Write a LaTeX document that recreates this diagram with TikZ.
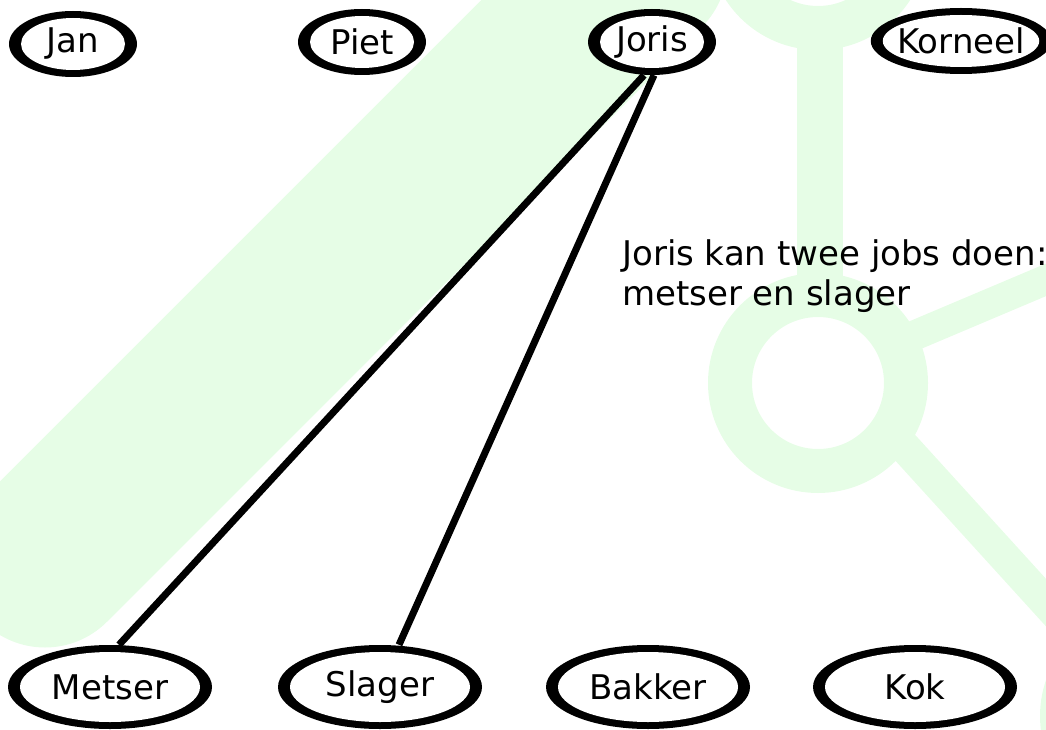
\documentclass[tikz,border=0pt]{standalone}
\usepackage{fontspec}
\setmainfont{DejaVu Sans}
\usetikzlibrary{shapes.geometric,calc}
\definecolor{lichtgroen}{RGB}{230,253,230}

\begin{document}
\begin{tikzpicture}[x=1pt, y=-1pt,
    every node/.style={font=\fontsize{34}{40}\selectfont},
    bol/.style={ellipse, fill=black, inner sep=0pt,
      path picture={\fill[white] let \p1=($(path picture bounding box.north east)-(path picture bounding box.center)$)
        in (path picture bounding box.center) ellipse [x radius=\x1-12pt, y radius=\y1-7pt];}},
    persoon/.style={bol, minimum width=128pt, minimum height=66pt},
    job/.style={bol, minimum width=204pt, minimum height=84pt},
    lijn/.style={line width=7pt},
    logo/.style={lichtgroen, line width=#1}]
    \useasboundingbox (0,0) rectangle (1046,730);
    % logo op de achtergrond
    \begin{scope}
      \clip (0,0) rectangle (1046,730);
      \draw[logo=175pt, line cap=round] (45,560) -- (640,-35);
      \draw[logo=44pt] (818,-60) circle [radius=88pt];
      \draw[logo=44pt] (818,383) circle [radius=88pt];
      \draw[logo=44pt] (1150,716) circle [radius=88pt];
      \draw[logo=46pt] (820,20) -- (820,300);
      \draw[logo=30pt] (880,350) -- (1100,257);
      \draw[logo=32pt] (880,420) -- (1120,684);
    \end{scope}
    % personen
    \node[persoon] (jan) at (73,44) {Jan};
    \node[persoon] (piet) at (362,42) {Piet};
    \node[persoon] (joris) at (652,42) {Joris};
    \node[persoon] (korneel) at (961,41) {Korneel};
    % jobs
    \node[job] (metser) at (110,687) {Metser};
    \node[job] (slager) at (380,687) {Slager};
    \node[job] (bakker) at (648,687) {Bakker};
    \node[job] (kok) at (915,687) {Kok};
    % wat Joris kan
    \draw[lijn] ([xshift=-8pt]joris.south) -- ([xshift=9pt]metser.north);
    \draw[lijn] ([xshift=2pt]joris.south) -- ([xshift=19pt]slager.north);
    \node[anchor=base west, align=left, inner sep=0pt] (uitleg) at (622,305)
      {Joris kan twee jobs doen:\\metser en slager};
\end{tikzpicture}
\end{document}
